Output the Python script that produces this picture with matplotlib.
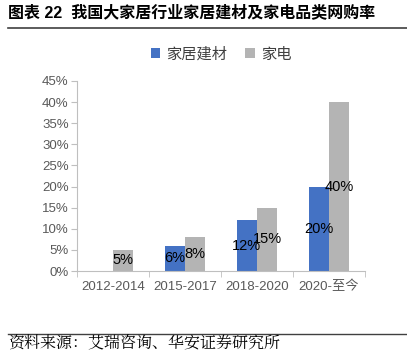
import matplotlib.pyplot as plt
import numpy as np
from matplotlib.lines import Line2D

plt.rcParams['font.family'] = ['Liberation Sans', 'Noto Sans CJK SC', 'DejaVu Sans']

periods = ['2012-2014', '2015-2017', '2018-2020', '2020-至今']
building = [0, 6, 12, 20]
appliance = [5, 8, 15, 40]
yticks = [0, 5, 10, 15, 20, 25, 30, 35, 40, 45]

blue = '#4472C4'
grey = '#B4B4B4'

fig = plt.figure(figsize=(4.07, 3.52), dpi=100)
ax = fig.add_axes([0.189, 0.230, 0.708, 0.540])

x = np.arange(len(periods))
w = 0.28
b1 = ax.bar(x - w / 2, building, w, color=blue, label='家居建材')
b2 = ax.bar(x + w / 2, appliance, w, color=grey, label='家电')

for bars, vals in ((b1, building), (b2, appliance)):
    for r, v in zip(bars, vals):
        if v == 0:
            continue
        ax.text(r.get_x() + r.get_width() / 2, v / 2, f'{v}%',
                ha='center', va='center', fontsize=10.5, color='black')

ax.set_xlim(-0.5, len(periods) - 0.5)
ax.set_ylim(0, 45)
ax.set_yticks(yticks)
ax.set_yticklabels([f'{t}%' for t in yticks])
ax.set_xticks(x)
ax.set_xticklabels(periods)
ax.set_xticks(np.arange(len(periods) + 1) - 0.5, minor=True)
ax.tick_params(axis='x', which='major', length=0, pad=7, labelsize=9.5, labelcolor='#595959')
ax.tick_params(axis='x', which='minor', length=4, color='#BFBFBF')
ax.tick_params(axis='y', length=4, color='#BFBFBF', labelsize=9.5, labelcolor='#595959', pad=2)
for s in ('top', 'right'):
    ax.spines[s].set_visible(False)
for s in ('left', 'bottom'):
    ax.spines[s].set_color('#BFBFBF')

ax.legend(loc='lower center', bbox_to_anchor=(0.5, 1.03), ncol=2, frameon=False,
          fontsize=11, handlelength=0.6, handleheight=0.6, handletextpad=0.4,
          columnspacing=1.2, labelcolor='#404040')

fig.text(0.02, 0.965, '图表 22  我国大家居行业家居建材及家电品类网购率',
         fontsize=11.5, fontweight='bold', va='center', ha='left')
fig.add_artist(Line2D([0.02, 1.0], [0.92, 0.92], color='#404040', lw=1.2))
fig.add_artist(Line2D([0.02, 1.0], [0.051, 0.051], color='#404040', lw=1.0))
fig.text(0.02, 0.025, '资料来源：艾瑞咨询、华安证券研究所', fontsize=11.5,
         va='center', ha='left', family=['Noto Serif CJK SC', 'Noto Sans CJK SC'])

fig.savefig('out.png', dpi=100)
